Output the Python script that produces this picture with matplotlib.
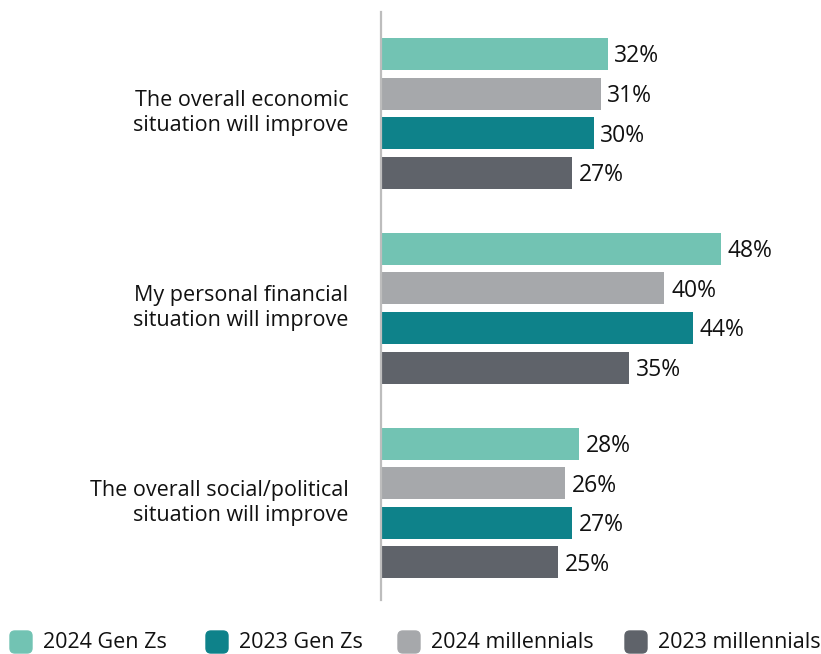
import matplotlib
matplotlib.use("Agg")
import matplotlib.pyplot as plt
from matplotlib.patches import FancyBboxPatch

plt.rcParams['font.family'] = ['Open Sans', 'DejaVu Sans']

categories = [
    "The overall economic\nsituation will improve",
    "My personal financial\nsituation will improve",
    "The overall social/political\nsituation will improve",
]
# bar order inside each group, top to bottom
series = ["2024 Gen Zs", "2024 millennials", "2023 Gen Zs", "2023 millennials"]
values = {
    "2024 Gen Zs": [32, 48, 28],
    "2024 millennials": [31, 40, 26],
    "2023 Gen Zs": [30, 44, 27],
    "2023 millennials": [27, 35, 25],
}
colors = {
    "2024 Gen Zs": "#72C3B3",
    "2023 Gen Zs": "#0E828A",
    "2024 millennials": "#A6A8AB",
    "2023 millennials": "#5F636A",
}
legend_order = ["2024 Gen Zs", "2023 Gen Zs", "2024 millennials", "2023 millennials"]

W, H = 821, 654
fig = plt.figure(figsize=(W / 100, H / 100), dpi=100)
ax = fig.add_axes([381 / W, 1 - 600 / H, 425 / W, 588 / H])

group_step = 4.87
bar_h = 0.8
for gi, cat in enumerate(categories):
    for si, name in enumerate(series):
        y = gi * group_step + si * 0.99
        v = values[name][gi]
        ax.barh(y, v, height=bar_h, color=colors[name])
        ax.text(v + 0.95, y + 0.06, f"{v}%", va="center", ha="left", fontsize=16.5,
                color="#111111")
    yc = gi * group_step + 1.5 * 0.99
    ax.text(-4.6, yc, cat, ha="right", va="center", fontsize=15.5, color="#111111",
            linespacing=1.25)

ax.set_xlim(0, 60)
ax.set_ylim(13.65, -1.05)
ax.set_xticks([])
ax.set_yticks([])
for side in ["top", "right", "bottom"]:
    ax.spines[side].set_visible(False)
ax.spines["left"].set_color("#BDBDBD")
ax.spines["left"].set_linewidth(1.6)

# legend along the bottom edge
sq_x = [10, 206, 398, 625]
for x, name in zip(sq_x, legend_order):
    fig.patches.append(FancyBboxPatch(
        (x / W, 1 - 653 / H), 22 / W, 22 / H,
        boxstyle="round,pad=0,rounding_size=0.006",
        transform=fig.transFigure, color=colors[name], mutation_aspect=W / H))
    fig.text((x + 33) / W, 1 - 642 / H, name, ha="left", va="center",
             fontsize=15.5, color="#111111")

plt.savefig("out.png", dpi=100)
